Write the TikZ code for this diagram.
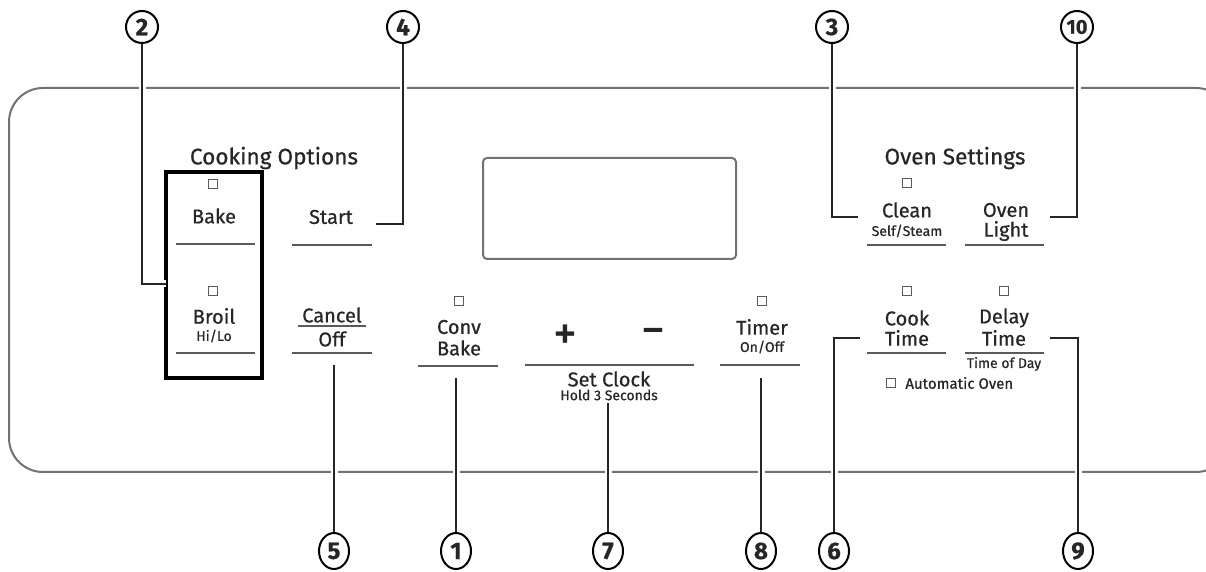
\documentclass[tikz,border=0pt]{standalone}
\usepackage{fontspec}
\setmainfont{Fira Sans}[FakeBold=0.6]
\usetikzlibrary{shapes.geometric}
\definecolor{txt}{HTML}{262626}
\definecolor{rule}{HTML}{5A5A5A}
\definecolor{frame}{HTML}{727272}
\begin{document}
\begin{tikzpicture}[
        x=0.5pt, y=-0.5pt,
        every node/.style={text=txt, inner sep=0pt, font=\fontsize{10}{11}\selectfont},
        small/.style={font=\fontsize{7}{8}\selectfont},
        callout/.style={circle, draw=black, line width=1pt, minimum size=16pt, font=\fontsize{12}{12}\selectfont\bfseries},
        lowcallout/.style={ellipse, draw=black, line width=1pt, minimum width=15pt, minimum height=18pt, font=\fontsize{12}{12}\selectfont\bfseries},
        led/.style={draw=rule, line width=0.5pt, minimum size=4.2pt},
        keyline/.style={draw=rule, line width=0.9pt},
        leader/.style={draw=black!85, line width=0.9pt, preaction={draw=white, line width=3.5pt}}
    ]
    \useasboundingbox (0,0) rectangle (1206,572);

    \draw[frame, line width=1pt, rounded corners=17pt] (9,88) rectangle (1230,472);
    \node[draw=frame, line width=1pt, rounded corners=2pt, minimum width=126.5pt, minimum height=50.5pt] (display) at (609.5,208.5) {};

    \node (cookopts) at (274,158) {\fontsize{11.3}{12}\selectfont Cooking Options};
    \node[draw=black, line width=1.6pt, minimum width=48pt, minimum height=103pt] (optsbox) at (214,275) {};
    \node[led] (bakeled) at (213,184) {};
    \node (bake) at (214,216) {Bake};
    \draw[keyline] (176,244) -- (255,244);
    \node[led] (broilled) at (213,291) {};
    \node (broil) at (214,316) {Broil};
    \node[small] (hilo) at (214,336) {Hi/Lo};
    \draw[keyline] (176,353) -- (255,353);

    \node (start) at (331,217) {Start};
    \draw[keyline] (292,245) -- (372,245);
    \node (cancel) at (332,315) {Cancel};
    \draw[keyline] (298,326) -- (366,326);
    \node (off) at (332,339) {Off};
    \draw[keyline] (292,353) -- (372,353);

    \node[led] (convled) at (459,301) {};
    \node (conv) at (459,327) {Conv};
    \node (convbake) at (459,348) {Bake};
    \draw[keyline] (418,366) -- (498,366);

    \node (plus) at (565,337) {\fontsize{24}{24}\selectfont +};
    \node (minus) at (653,337) {\fontsize{24}{24}\selectfont −};
    \draw[keyline] (525,365) -- (694,365);
    \node (setclock) at (609,379) {Set Clock};
    \node[small] (hold) at (609,395) {Hold 3 Seconds};

    \node[led] (timerled) at (762,301) {};
    \node (timer) at (762,327) {Timer};
    \node[small] (onoff) at (762,347) {On/Off};
    \draw[keyline] (720,365) -- (800,365);

    \node (ovenset) at (955,158) {\fontsize{11.3}{12}\selectfont Oven Settings};
    \node[led] (cleanled) at (907,183) {};
    \node (clean) at (907,210) {Clean};
    \node[small] (selfsteam) at (907,231) {Self/Steam};
    \draw[keyline] (867,245) -- (946,245);
    \node (oven) at (1006,210) {Oven};
    \node (light) at (1006,231) {Light};
    \draw[keyline] (965,245) -- (1044,245);

    \node[led] (cookled) at (907,291) {};
    \node (cook) at (907,318) {Cook};
    \node (cooktime) at (907,338) {Time};
    \draw[keyline] (867,353) -- (946,353);
    \node[led] (delayled) at (1004,291) {};
    \node (delay) at (1004,318) {Delay};
    \node (delaytime) at (1004,338) {Time};
    \draw[keyline] (965,353) -- (1044,353);
    \node[small] (timeofday) at (1004,364) {Time of Day};
    \node[led] (autoled) at (891,383) {};
    \node[small, anchor=west, font=\fontsize{7.5}{8}\selectfont] (auto) at (905,383) {Automatic Oven};

    \node[callout] (c2) at (142,27) {2};
    \node[callout] (c4) at (403,27) {4};
    \node[callout] (c3) at (832,27) {3};
    \node[callout, font=\fontsize{10}{10}\selectfont\bfseries] (c10) at (1077,27) {10};
    \node[lowcallout] (c5) at (334,551) {5};
    \node[lowcallout] (c1) at (456,551) {1};
    \node[lowcallout] (c7) at (608,551) {7};
    \node[lowcallout] (c8) at (761,551) {8};
    \node[lowcallout] (c6) at (834,551) {6};
    \node[lowcallout] (c9) at (1078,551) {9};

    \coordinate (broilin) at (166,284);
    \coordinate (startin) at (376,224);
    \coordinate (cleanin) at (858,217);
    \coordinate (lightin) at (1050,217);
    \coordinate (cancelout) at (334,365);
    \coordinate (convout) at (456,378);
    \coordinate (clockout) at (608,403);
    \coordinate (timerout) at (761,378);
    \coordinate (cookin) at (860,338);
    \coordinate (delayin) at (1050,338);

    \draw[leader] (c2) |- (broilin);
    \draw[leader] (c4) |- (startin);
    \draw[leader] (c3) |- (cleanin);
    \draw[leader] (c10) |- (lightin);
    \draw[leader] (c5) -- (cancelout);
    \draw[leader] (c1) -- (convout);
    \draw[leader] (c7) -- (clockout);
    \draw[leader] (c8) -- (timerout);
    \draw[leader] (c6) |- (cookin);
    \draw[leader] (c9) |- (delayin);
\end{tikzpicture}
\end{document}
